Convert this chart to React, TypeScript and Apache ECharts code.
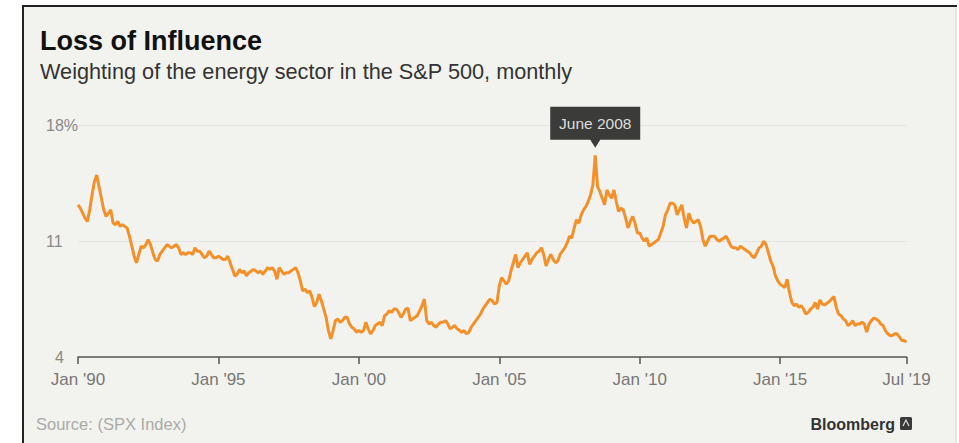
import React, { useEffect, useRef } from "react";
import * as echarts from "echarts";

// Monthly weighting (%) of the energy sector in the S&P 500, Jan 1990 – Jul 2019
const y1990 = [13.2, 13.0, 12.7, 12.4, 12.2, 12.9, 13.8, 14.6, 15.0, 14.3, 13.6, 12.9];
const y1991 = [12.5, 12.7, 12.9, 12.1, 12.0, 12.2, 11.9, 12.0, 11.9, 11.8, 11.3, 10.7];
const y1992 = [10.1, 9.7, 10.2, 10.7, 10.6, 10.8, 11.1, 10.8, 10.3, 9.9, 9.8, 10.2];
const y1993 = [10.4, 10.6, 10.8, 10.7, 10.6, 10.7, 10.8, 10.6, 10.2, 10.3, 10.2, 10.3];
const y1994 = [10.3, 10.2, 10.6, 10.4, 10.4, 10.2, 10.0, 10.1, 10.4, 10.2, 10.0, 10.0];
const y1995 = [10.1, 10.0, 9.9, 9.9, 10.1, 9.7, 9.3, 8.9, 9.0, 9.3, 9.1, 9.2];
const y1996 = [8.9, 9.1, 9.2, 9.3, 9.2, 9.1, 9.2, 9.0, 9.2, 9.4, 9.3, 9.4];
const y1997 = [9.2, 8.7, 9.4, 9.2, 9.0, 9.1, 9.1, 9.2, 9.3, 9.4, 9.1, 8.6];
const y1998 = [8.0, 8.1, 7.9, 8.0, 7.6, 7.05, 7.3, 7.8, 7.4, 6.9, 6.4, 5.6];
const y1999 = [5.1, 5.6, 6.2, 6.3, 6.1, 6.2, 6.4, 6.4, 6.0, 5.8, 5.7, 5.5];
const y2000 = [5.6, 5.5, 5.6, 6.1, 5.7, 5.4, 5.6, 5.9, 6.0, 6.1, 5.9, 6.5];
const y2001 = [6.6, 6.8, 6.7, 6.9, 6.9, 6.7, 6.4, 6.6, 6.9, 6.95, 6.2, 6.3];
const y2002 = [6.4, 6.5, 6.8, 7.1, 7.5, 6.2, 6.0, 6.1, 5.9, 5.8, 6.0, 6.1];
const y2003 = [6.1, 6.2, 6.0, 5.7, 5.8, 5.9, 5.7, 5.6, 5.5, 5.6, 5.4, 5.5];
const y2004 = [5.8, 6.0, 6.2, 6.4, 6.6, 6.9, 7.1, 7.3, 7.5, 7.4, 7.2, 7.3];
const y2005 = [8.3, 8.8, 8.6, 8.4, 8.6, 9.2, 9.7, 10.2, 9.4, 9.7, 9.9, 10.1];
const y2006 = [10.3, 9.6, 9.9, 10.1, 10.3, 10.4, 10.6, 10.2, 9.5, 9.9, 10.2, 9.9];
const y2007 = [9.7, 9.8, 10.2, 10.4, 10.6, 10.9, 11.3, 11.2, 11.8, 12.3, 12.1, 12.6];
const y2008 = [12.9, 13.1, 13.4, 13.8, 14.4, 16.2, 14.3, 14.0, 13.6, 13.2, 14.1, 13.8];
const y2009 = [13.6, 14.1, 13.4, 12.8, 13.0, 12.9, 12.4, 11.8, 12.2, 12.5, 12.1, 11.5];
const y2010 = [11.5, 11.2, 11.0, 11.2, 10.7, 10.8, 10.9, 11.0, 11.1, 11.5, 11.9, 12.6];
const y2011 = [12.9, 13.3, 13.3, 13.2, 12.6, 12.9, 13.2, 12.4, 11.8, 12.7, 12.3, 12.1];
const y2012 = [12.2, 12.3, 11.9, 11.1, 10.7, 11.0, 11.3, 11.3, 11.3, 11.1, 11.0, 11.1];
const y2013 = [11.2, 11.3, 11.0, 10.7, 10.6, 10.6, 10.5, 10.7, 10.6, 10.5, 10.4, 10.3];
const y2014 = [10.1, 10.0, 10.3, 10.6, 10.7, 11.0, 10.8, 10.3, 9.8, 9.5, 8.9, 8.6];
const y2015 = [8.4, 8.3, 8.2, 8.7, 7.9, 7.3, 7.1, 7.2, 7.0, 7.1, 6.9, 6.6];
const y2016 = [6.7, 6.9, 7.0, 7.3, 6.9, 7.45, 7.2, 7.15, 7.25, 7.35, 7.5, 7.65];
const y2017 = [7.0, 6.6, 6.5, 6.3, 6.2, 5.9, 6.0, 6.2, 5.9, 6.0, 6.0, 6.1];
const y2018 = [6.0, 5.5, 6.0, 6.2, 6.35, 6.3, 6.2, 6.0, 5.9, 5.6, 5.4, 5.3];
const y2019 = [5.3, 5.4, 5.4, 5.2, 5.0, 5.0, 4.9];

const yearBlocks = [
  y1990, y1991, y1992, y1993, y1994, y1995, y1996, y1997, y1998, y1999,
  y2000, y2001, y2002, y2003, y2004, y2005, y2006, y2007, y2008, y2009,
  y2010, y2011, y2012, y2013, y2014, y2015, y2016, y2017, y2018, y2019,
];
const firstYear = 1990;

const weights: number[] = [];
const months: string[] = [];
yearBlocks.forEach((block, i) => {
  block.forEach((v, m) => {
    weights.push(v);
    months.push(`${firstYear + i}-${String(m + 1).padStart(2, "0")}`);
  });
});

const tickMonths = ["1990-01", "1995-01", "2000-01", "2005-01", "2010-01", "2015-01", "2019-07"];
const tickLabels = ["Jan '90", "Jan '95", "Jan '00", "Jan '05", "Jan '10", "Jan '15", "Jul '19"];

const yMin = 4;
const yMax = 18;
const yStep = 7;

const peakMonth = "2008-06";
const peakLabel = "June 2008";

const titleText = "Loss of Influence";
const subtitleText = "Weighting of the energy sector in the S&P 500, monthly";
const sourceText = "Source: (SPX Index)";
const brandText = "Bloomberg";

const FONT = "'Liberation Sans', Arial, Helvetica, sans-serif";

export default function App() {
  const ref = useRef<HTMLDivElement>(null);

  useEffect(() => {
    if (!ref.current) return;
    const chart = echarts.init(ref.current, null, { renderer: "svg" });
    const isTick = (idx: number) => tickMonths.indexOf(months[idx]) >= 0;

    chart.setOption({
      animation: false,
      backgroundColor: "#ffffff",
      textStyle: { fontFamily: FONT },
      title: [
        {
          text: titleText,
          left: 40,
          top: 27,
          padding: 0,
          textStyle: { fontSize: 27, fontWeight: "bold", color: "#111", fontFamily: FONT },
        },
        {
          text: subtitleText,
          left: 40,
          top: 60,
          padding: 0,
          textStyle: { fontSize: 21.7, fontWeight: "normal", color: "#333", fontFamily: FONT },
        },
      ],
      graphic: [
        {
          type: "rect",
          z: -10,
          silent: true,
          shape: { x: 23, y: 6, width: 933, height: 440 },
          style: { fill: "#f2f2ee" },
        },
        {
          type: "line",
          z: -9,
          silent: true,
          shape: { x1: 22, y1: 6, x2: 957, y2: 6 },
          style: { stroke: "#222", lineWidth: 2 },
        },
        {
          type: "line",
          z: -9,
          silent: true,
          shape: { x1: 23, y1: 5, x2: 23, y2: 443 },
          style: { stroke: "#222", lineWidth: 2 },
        },
        {
          type: "line",
          z: -9,
          silent: true,
          shape: { x1: 956, y1: 7, x2: 956, y2: 443 },
          style: { stroke: "#d0d0cc", lineWidth: 1 },
        },
        {
          type: "text",
          left: 36,
          top: 415,
          style: { text: sourceText, fontSize: 16.5, fill: "#aaa", fontFamily: FONT },
        },
        {
          type: "text",
          right: 64,
          top: 416,
          style: { text: brandText, fontSize: 16, fontWeight: "bold", fill: "#333", fontFamily: FONT },
        },
        {
          type: "rect",
          shape: { x: 900, y: 417, width: 12, height: 13, r: 1.5 },
          style: { fill: "#3a3a3a" },
        },
        {
          type: "polyline",
          shape: { points: [[903, 426], [906, 420], [909, 426]] },
          style: { stroke: "#ddd", lineWidth: 1.2, fill: "none" },
        },
      ],
      grid: { left: 78, right: 52.5, top: 125.5, bottom: 86, containLabel: false },
      xAxis: {
        type: "category",
        data: months,
        boundaryGap: false,
        axisLine: { show: true, lineStyle: { color: "#555", width: 1.5 } },
        axisTick: {
          show: true,
          interval: (idx: number) => isTick(idx),
          length: 7,
          inside: false,
          lineStyle: { color: "#555", width: 1.5 },
        },
        axisLabel: {
          interval: (idx: number) => isTick(idx),
          formatter: (v: string) => {
            const k = tickMonths.indexOf(v);
            return k >= 0 ? tickLabels[k] : "";
          },
          color: "#777",
          fontSize: 17,
          margin: 14,
          fontFamily: FONT,
        },
        splitLine: { show: false },
      },
      yAxis: {
        type: "value",
        min: yMin,
        max: yMax,
        interval: yStep,
        axisLine: { show: false },
        axisTick: { show: false },
        axisLabel: {
          align: "left",
          margin: 32,
          formatter: (v: number) =>
            v === yMax ? `{n|${v}%}` : v < 10 ? `{d|${v}}` : `{n|${v}}`,
          rich: {
            n: { fontSize: 16, color: "#888", fontFamily: FONT },
            d: { fontSize: 16, color: "#888", fontFamily: FONT, padding: [0, 0, 0, 9] },
          },
        },
        splitLine: { show: true, lineStyle: { color: "#e4e4e0", width: 1 } },
      },
      series: [
        {
          type: "line",
          data: weights,
          symbol: "none",
          lineStyle: { color: "#f4902a", width: 3 },
          itemStyle: { color: "#f4902a" },
          z: 5,
          markPoint: {
            silent: true,
            symbol: "path://M0,0 H90 V33 H50 L45,41 L40,33 H0 Z",
            symbolSize: [90, 41],
            symbolKeepAspect: false,
            symbolOffset: [0, -28],
            itemStyle: { color: "#3b3b39" },
            label: {
              show: true,
              position: "inside",
              offset: [0, -4],
              formatter: peakLabel,
              color: "#ddd",
              fontSize: 15.5,
              fontFamily: FONT,
            },
            data: [{ coord: [peakMonth, weights[months.indexOf(peakMonth)]] }],
          },
        },
      ],
    });

    return () => chart.dispose();
  }, []);

  return (
    <div
      ref={ref}
      style={{ position: "absolute", left: 0, top: 0, width: 959, height: 443 }}
    />
  );
}
